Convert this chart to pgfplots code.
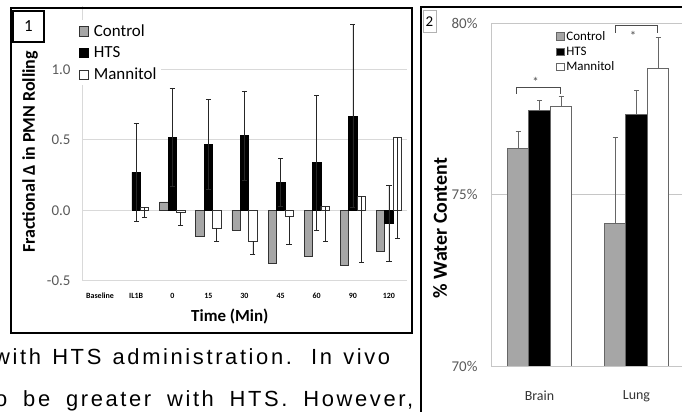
\documentclass[border=0pt]{standalone}
\usepackage{pgfplots}
\pgfplotsset{compat=1.18}
\usepackage{fontspec}
\setmainfont{Carlito}
\newfontfamily\bodyfont[LetterSpace=12]{Liberation Sans}
\definecolor{ctrlgray}{HTML}{A6A6A6}
\definecolor{ticktxt}{HTML}{595959}
\definecolor{gridc}{HTML}{D9D9D9}

\pgfplotsset{
  sqlegend/.style={legend image code/.code={\draw[##1,line width=0.6bp] (0bp,-#1) rectangle (2*#1,#1);}},
}

\begin{document}
\begin{tikzpicture}
\path[use as bounding box] (0bp,0bp) rectangle (682bp,412bp);
\clip (0bp,0bp) rectangle (682bp,412bp);

% ---- panel 1: fractional change in rolling
\begin{axis}[
  at={(82bp,131.5bp)}, anchor=south west,
  scale only axis, width=325bp, height=274bp,
  xmin=-0.5, xmax=8.5, ymin=-0.5, ymax=1.45,
  ybar=0pt, bar width=8.4bp,
  axis lines*=left,
  axis line style={gridc, line width=1bp},
  major tick length=0pt,
  xtick={0,...,8},
  xticklabels={Baseline,IL1B,0,15,30,45,60,90,120},
  ytick={-0.5,0,0.5,1},
  yticklabels={-0.5,0.0,0.5,1.0},
  ymajorgrids, grid style={gridc, line width=1bp},
  xticklabel style={font=\bfseries\fontsize{8}{8}\selectfont, yshift=-9bp},
  yticklabel style={font=\fontsize{15}{15}\selectfont, text=ticktxt, xshift=-8bp},
  ylabel={Fractional Δ in PMN Rolling},
  ylabel style={font=\bfseries\fontsize{18}{18}\selectfont, at={(rel axis cs:-0.16,0.469)}, anchor=center},
  xlabel={Time (Min)},
  xlabel style={font=\bfseries\fontsize{17}{17}\selectfont, at={(rel axis cs:0.455,-0.133)}, anchor=center},
  sqlegend=4.8bp,
  legend style={at={(rel axis cs:-0.02,0.95)}, anchor=north west, draw=none, fill=white,
    font=\fontsize{17}{17}\selectfont, row sep=5bp, inner xsep=3bp, inner ysep=2bp,
    /tikz/every odd column/.append style={column sep=3bp}},
  legend cell align=left,
  error bars/error bar style={line width=0.6bp, black!85},
  error bars/error mark options={rotate=90, mark size=2.6bp, line width=0.6bp, black!85},
]
\addplot[fill=ctrlgray, draw=black!80, line width=0.6bp] coordinates {
  (2,0.06) (3,-0.185) (4,-0.14) (5,-0.375) (6,-0.33) (7,-0.39) (8,-0.29)
};
\addplot[fill=black, draw=black, line width=0.6bp,
  error bars/.cd, y dir=both, y explicit] coordinates {
  (1,0.27) +- (0,0.35)
  (2,0.52) +- (0,0.35)
  (3,0.47) +- (0,0.32)
  (4,0.53) +- (0,0.32)
  (5,0.20) +- (0,0.17)
  (6,0.34) +- (0,0.48)
  (7,0.67) +- (0,0.65)
  (8,-0.09) +- (0,0.27)
};
\addplot[fill=white, draw=black!80, line width=0.6bp,
  error bars/.cd, y dir=minus, y explicit] coordinates {
  (1,0.02) +- (0,0.07)
  (2,-0.015) +- (0,0.095)
  (3,-0.125) +- (0,0.095)
  (4,-0.22) +- (0,0.09)
  (5,-0.045) +- (0,0.2)
  (6,0.03) +- (0,0.25)
  (7,0.10) +- (0,0.47)
  (8,0.52) +- (0,0.72)
};
\legend{Control,HTS,Mannitol}
\end{axis}

% ---- panel 2: water content
\begin{axis}[
  at={(491bp,46bp)}, anchor=south west,
  scale only axis, width=194bp, height=343bp,
  xmin=-0.5, xmax=1.5, ymin=70, ymax=80,
  ybar=0pt, bar width=21.5bp,
  axis line style={gray!45, line width=0.8bp},
  major tick length=0pt,
  xtick={0,1}, xticklabels={Brain,Lung},
  ytick={70,75,80}, yticklabels={70\%,75\%,80\%},
  ymajorgrids, grid style={gray!45, line width=0.8bp},
  xticklabel style={font=\fontsize{14}{14}\selectfont, text=black!80, yshift=-21bp},
  yticklabel style={font=\fontsize{15}{15}\selectfont, text=ticktxt, xshift=-10bp},
  ylabel={\% Water Content},
  ylabel style={font=\bfseries\fontsize{20}{20}\selectfont, at={(rel axis cs:-0.263,0.402)}, anchor=center},
  sqlegend=3.8bp,
  legend style={at={(rel axis cs:0.33,0.985)}, anchor=north west, draw=none, fill=none,
    font=\fontsize{13}{13}\selectfont, row sep=1bp, inner sep=1bp,
    /tikz/every even column/.append style={column sep=1bp}},
  legend cell align=left,
  error bars/error bar style={line width=0.7bp, black!60},
  error bars/error mark options={rotate=90, mark size=2.5bp, line width=0.7bp, black!60},
]
\addplot[fill=ctrlgray, draw=black!60, line width=0.7bp,
  error bars/.cd, y dir=plus, y explicit] coordinates {
  (0,76.35) +- (0,0.48)
  (1,74.16) +- (0,2.51)
};
\addplot[fill=black, draw=black!60, line width=0.7bp,
  error bars/.cd, y dir=plus, y explicit] coordinates {
  (0,77.46) +- (0,0.29)
  (1,77.34) +- (0,0.69)
};
\addplot[fill=white, draw=black!60, line width=0.7bp,
  error bars/.cd, y dir=plus, y explicit] coordinates {
  (0,77.58) +- (0,0.29)
  (1,78.68) +- (0,0.89)
};
\legend{Control,HTS,Mannitol}
\draw[black!70, line width=0.7bp] (axis cs:-0.24,77.93) -- (axis cs:-0.24,78.13) -- (axis cs:0.22,78.13) -- (axis cs:0.22,77.93);
\node[font=\fontsize{13}{13}\selectfont, text=black!70] at (axis cs:-0.04,78.28) {*};
\draw[black!70, line width=0.7bp] (axis cs:0.78,79.72) -- (axis cs:0.78,79.94) -- (axis cs:1.22,79.94) -- (axis cs:1.22,79.72);
\node[font=\fontsize{13}{13}\selectfont, text=black!70] at (axis cs:0.965,79.62) {*};
\end{axis}

% ---- panel frames and numbers
\draw[line width=2.5bp] (11bp,404bp) rectangle (412bp,79bp);
\draw[line width=1.2bp] (13bp,401bp) rectangle (44bp,370bp);
\node[font=\fontsize{17}{17}\selectfont] at (28.5bp,385.5bp) {1};
\draw[line width=2.5bp] (421bp,-5bp) -- (421bp,405bp) -- (690bp,405bp);
\draw[gray!60, line width=0.8bp] (423bp,402bp) rectangle (436bp,380bp);
\node[font=\fontsize{15}{15}\selectfont] at (429.5bp,390bp) {2};

% ---- running text below panel 1
\node[anchor=base west, inner sep=0pt] at (-6bp,47.5bp)
  {\bodyfont\fontsize{22}{22}\selectfont\makebox[396bp][s]{with HTS administration. In vivo}};
\node[anchor=base west, inner sep=0pt] at (-5bp,6bp)
  {\bodyfont\fontsize{22}{22}\selectfont\makebox[418bp][s]{o be greater with HTS. However,}};
\end{tikzpicture}
\end{document}
